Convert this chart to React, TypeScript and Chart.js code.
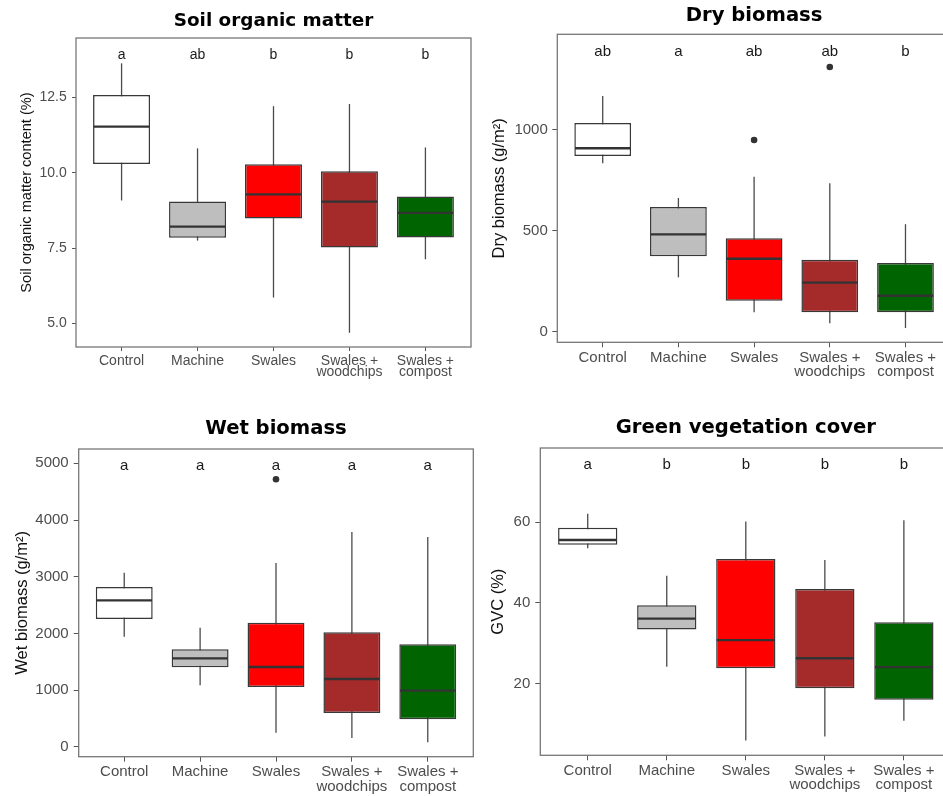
import React, { useEffect, useRef } from "react";
import { Chart, registerables } from "chart.js";

Chart.register(...registerables);

// ---------- shared categories ----------
const categories = ["Control", "Machine", "Swales", "Swales + woodchips", "Swales + compost"];
const categoryTickLabels: string[][] = [
  ["Control"],
  ["Machine"],
  ["Swales"],
  ["Swales +", "woodchips"],
  ["Swales +", "compost"],
];
const boxColors = ["#FFFFFF", "#BEBEBE", "#FF0000", "#A52A2A", "#006400"];

// ---------- Soil organic matter ----------
const somLow = [9.08, 7.75, 5.86, 4.69, 7.13];
const somQ1 = [10.29, 7.84, 8.48, 7.52, 7.85];
const somMedian = [11.53, 8.21, 9.28, 9.04, 8.67];
const somQ3 = [12.58, 9.05, 10.28, 10.05, 9.21];
const somHigh = [13.63, 10.81, 12.21, 12.28, 10.84];
const somOutlierCategory: number[] = [];
const somOutlierValue: number[] = [];
const somLetters = ["a", "ab", "b", "b", "b"];
const somLetterY = 13.78;
const somYRange = [4.22, 14.47];
const somTicks = [5, 7.5, 10, 12.5];
const somTickLabels = ["5.0", "7.5", "10.0", "12.5"];

// ---------- Dry biomass ----------
const dryLow = [834, 269, 96, 42, 18];
const dryQ1 = [870, 373, 153, 96, 96];
const dryMedian = [908, 482, 361, 243, 178];
const dryQ3 = [1033, 617, 462, 356, 340];
const dryHigh = [1167, 662, 767, 735, 532];
const dryOutlierCategory = [2, 3];
const dryOutlierValue = [949, 1310];
const dryLetters = ["ab", "a", "ab", "ab", "b"];
const dryLetterY = 1365;
const dryYRange = [-52.5, 1472];
const dryTicks = [0, 500, 1000];
const dryTickLabels = ["0", "500", "1000"];

// ---------- Wet biomass ----------
const wetLow = [1944, 1087, 252, 159, 83];
const wetQ1 = [2256, 1405, 1057, 599, 488];
const wetMedian = [2585, 1563, 1410, 1198, 992];
const wetQ3 = [2820, 1722, 2191, 2021, 1810];
const wetHigh = [3072, 2103, 3243, 3789, 3701];
const wetOutlierCategory = [2];
const wetOutlierValue = [4718];
const wetLetters = ["a", "a", "a", "a", "a"];
const wetLetterY = 4882;
const wetYRange = [-171, 5252];
const wetTicks = [0, 1000, 2000, 3000, 4000, 5000];
const wetTickLabels = ["0", "1000", "2000", "3000", "4000", "5000"];

// ---------- Green vegetation cover ----------
const gvcLow = [53.56, 24.2, 5.9, 6.9, 10.8];
const gvcQ1 = [54.45, 33.4, 23.8, 18.9, 16.0];
const gvcMedian = [55.6, 36.1, 30.8, 26.3, 24.1];
const gvcQ3 = [58.66, 39.43, 50.9, 43.47, 35.2];
const gvcHigh = [62.1, 46.77, 60.2, 50.66, 60.5];
const gvcOutlierCategory: number[] = [];
const gvcOutlierValue: number[] = [];
const gvcLetters = ["a", "b", "b", "b", "b"];
const gvcLetterY = 73.2;
const gvcYRange = [2.26, 78.4];
const gvcTicks = [20, 40, 60];
const gvcTickLabels = ["20", "40", "60"];

const xRange = [-0.6, 4.6];

type PanelData = {
  title: string;
  yTitle: string;
  low: number[];
  q1: number[];
  median: number[];
  q3: number[];
  high: number[];
  outlierCategory: number[];
  outlierValue: number[];
  letters: string[];
  letterY: number;
  yRange: number[];
  ticks: number[];
  tickLabels: string[];
};

type PanelLayout = {
  left: number;
  top: number;
  width: number;
  height: number;
  yAxisWidth: number;
  xAxisHeight: number;
  padRight: number;
  titleSize: number;
  titlePadTop: number;
  titlePadBottom: number;
  tickSize: number;
  tickLineHeight: number;
  xTickPad: number;
  tickLen: number;
  yTickPad: number;
  yTitleSize: number;
  yTitlePad: number;
  letterSize: number;
};

const panelData: PanelData[] = [
  {
    title: "Soil organic matter",
    yTitle: "Soil organic matter content (%)",
    low: somLow, q1: somQ1, median: somMedian, q3: somQ3, high: somHigh,
    outlierCategory: somOutlierCategory, outlierValue: somOutlierValue,
    letters: somLetters, letterY: somLetterY, yRange: somYRange,
    ticks: somTicks, tickLabels: somTickLabels,
  },
  {
    title: "Dry biomass",
    yTitle: "Dry biomass (g/m²)",
    low: dryLow, q1: dryQ1, median: dryMedian, q3: dryQ3, high: dryHigh,
    outlierCategory: dryOutlierCategory, outlierValue: dryOutlierValue,
    letters: dryLetters, letterY: dryLetterY, yRange: dryYRange,
    ticks: dryTicks, tickLabels: dryTickLabels,
  },
  {
    title: "Wet biomass",
    yTitle: "Wet biomass (g/m²)",
    low: wetLow, q1: wetQ1, median: wetMedian, q3: wetQ3, high: wetHigh,
    outlierCategory: wetOutlierCategory, outlierValue: wetOutlierValue,
    letters: wetLetters, letterY: wetLetterY, yRange: wetYRange,
    ticks: wetTicks, tickLabels: wetTickLabels,
  },
  {
    title: "Green vegetation cover",
    yTitle: "GVC (%)",
    low: gvcLow, q1: gvcQ1, median: gvcMedian, q3: gvcQ3, high: gvcHigh,
    outlierCategory: gvcOutlierCategory, outlierValue: gvcOutlierValue,
    letters: gvcLetters, letterY: gvcLetterY, yRange: gvcYRange,
    ticks: gvcTicks, tickLabels: gvcTickLabels,
  },
];

const panelLayouts: PanelLayout[] = [
  { left: 0, top: 0, width: 480, height: 400, yAxisWidth: 76, xAxisHeight: 53, padRight: 9,
    titleSize: 18.4, titlePadTop: 12.1, titlePadBottom: 7.5, tickSize: 14, tickLineHeight: 0.84,
    xTickPad: 4, tickLen: 4, yTickPad: 5.3, yTitleSize: 14.6, yTitlePad: 18.7, letterSize: 14 },
  { left: 480, top: 0, width: 480, height: 400, yAxisWidth: 77.3, xAxisHeight: 57.7, padRight: 9.1,
    titleSize: 19.6, titlePadTop: 5.8, titlePadBottom: 8.9, tickSize: 15, tickLineHeight: 0.97,
    xTickPad: 2.9, tickLen: 5, yTickPad: 4.5, yTitleSize: 16.5, yTitlePad: 9.6, letterSize: 15 },
  { left: 0, top: 400, width: 480, height: 396, yAxisWidth: 78.7, xAxisHeight: 39.3, padRight: 6.7,
    titleSize: 19.6, titlePadTop: 19.4, titlePadBottom: 10, tickSize: 15, tickLineHeight: 0.96,
    xTickPad: 3.2, tickLen: 5, yTickPad: 5, yTitleSize: 16.5, yTitlePad: 12.6, letterSize: 15 },
  { left: 480, top: 400, width: 480, height: 396, yAxisWidth: 60.3, xAxisHeight: 40.7, padRight: 8.7,
    titleSize: 19.6, titlePadTop: 18.4, titlePadBottom: 10, tickSize: 15, tickLineHeight: 0.93,
    xTickPad: 3.5, tickLen: 5, yTickPad: 5, yTitleSize: 16.5, yTitlePad: 8.8, letterSize: 15 },
];

const SANS = "'Liberation Sans', Arial, sans-serif";
const TITLE_FONT = "'DejaVu Sans', sans-serif";

function makeExtrasPlugin(d: PanelData, l: PanelLayout) {
  return {
    id: "boxExtras",
    beforeDatasetsDraw(chart: any) {
      const { ctx } = chart;
      const x = chart.scales.x;
      const y = chart.scales.y;
      ctx.save();
      ctx.strokeStyle = "#4A4A4A";
      ctx.lineWidth = 1.3;
      d.low.forEach((lo, i) => {
        const px = x.getPixelForValue(i);
        ctx.beginPath();
        ctx.moveTo(px, y.getPixelForValue(lo));
        ctx.lineTo(px, y.getPixelForValue(d.high[i]));
        ctx.stroke();
      });
      ctx.restore();
    },
    afterDatasetsDraw(chart: any) {
      const { ctx, chartArea } = chart;
      const x = chart.scales.x;
      const y = chart.scales.y;
      const meta = chart.getDatasetMeta(0);
      ctx.save();
      // medians
      ctx.strokeStyle = "#333333";
      ctx.lineWidth = 2.3;
      d.median.forEach((m, i) => {
        const bar = meta.data[i];
        if (!bar) return;
        const { x: bx, width } = bar.getProps(["x", "width"], true);
        const py = y.getPixelForValue(m);
        ctx.beginPath();
        ctx.moveTo(bx - width / 2 + 0.7, py);
        ctx.lineTo(bx + width / 2 - 0.7, py);
        ctx.stroke();
      });
      // significance letters
      ctx.fillStyle = "#1A1A1A";
      ctx.font = `${l.letterSize}px ${SANS}`;
      ctx.textAlign = "center";
      ctx.textBaseline = "alphabetic";
      d.letters.forEach((t, i) => {
        ctx.fillText(t, x.getPixelForValue(i), y.getPixelForValue(d.letterY));
      });
      // panel border
      ctx.strokeStyle = "#777777";
      ctx.lineWidth = 1.3;
      ctx.strokeRect(chartArea.left, chartArea.top, chartArea.right - chartArea.left, chartArea.bottom - chartArea.top);
      ctx.restore();
    },
  };
}

function buildConfig(d: PanelData, l: PanelLayout): any {
  const boxData = d.q1.map((q, i) => ({ x: i, y: [q, d.q3[i]] }));
  const outlierData = d.outlierCategory.map((c, i) => ({ x: c, y: d.outlierValue[i] }));
  return {
    type: "bar",
    data: {
      datasets: [
        {
          type: "bar",
          data: boxData,
          backgroundColor: boxColors,
          borderColor: "#383838",
          borderWidth: 1.5,
          borderSkipped: false,
          barPercentage: 0.75,
          categoryPercentage: 1,
          order: 2,
        },
        {
          type: "scatter",
          data: outlierData,
          pointRadius: 3.3,
          pointBackgroundColor: "#333333",
          pointBorderWidth: 0,
          order: 1,
        },
      ],
    },
    options: {
      animation: false,
      responsive: false,
      devicePixelRatio: 1,
      events: [],
      layout: { padding: { left: 0, right: l.padRight, top: 0, bottom: 0 } },
      plugins: {
        legend: { display: false },
        tooltip: { enabled: false },
        title: {
          display: true,
          text: d.title,
          fullSize: false,
          color: "#000000",
          font: { family: TITLE_FONT, weight: "bold", size: l.titleSize, lineHeight: 1 },
          padding: { top: l.titlePadTop, bottom: l.titlePadBottom },
        },
      },
      scales: {
        x: {
          type: "linear",
          min: xRange[0],
          max: xRange[1],
          offset: false,
          grid: {
            display: true,
            offset: false,
            drawOnChartArea: false,
            drawTicks: true,
            tickLength: l.tickLen,
            color: "#555555",
            lineWidth: 1,
          },
          border: { display: false },
          afterBuildTicks: (scale: any) => {
            scale.ticks = categories.map((_, i) => ({ value: i }));
          },
          afterFit: (scale: any) => {
            scale.height = l.xAxisHeight;
            scale.paddingLeft = 0;
            scale.paddingRight = 0;
          },
          ticks: {
            autoSkip: false,
            maxRotation: 0,
            minRotation: 0,
            padding: l.xTickPad,
            color: "#4D4D4D",
            font: { family: SANS, size: l.tickSize, lineHeight: l.tickLineHeight },
            callback: (_v: any, i: number) => categoryTickLabels[i],
          },
        },
        y: {
          type: "linear",
          min: d.yRange[0],
          max: d.yRange[1],
          grid: {
            display: true,
            drawOnChartArea: false,
            drawTicks: true,
            tickLength: l.tickLen,
            color: "#555555",
            lineWidth: 1,
          },
          border: { display: false },
          afterBuildTicks: (scale: any) => {
            scale.ticks = d.ticks.map((v) => ({ value: v }));
          },
          afterFit: (scale: any) => {
            scale.width = l.yAxisWidth;
            scale.paddingTop = 0;
            scale.paddingBottom = 0;
          },
          ticks: {
            autoSkip: false,
            padding: l.yTickPad,
            color: "#4D4D4D",
            font: { family: SANS, size: l.tickSize },
            callback: (_v: any, i: number) => d.tickLabels[i],
          },
          title: {
            display: true,
            text: d.yTitle,
            color: "#111111",
            font: { family: SANS, size: l.yTitleSize, lineHeight: 1.2 },
            padding: { top: l.yTitlePad, bottom: 0 },
          },
        },
      },
    },
    plugins: [makeExtrasPlugin(d, l)],
  };
}

function Panel({ d, l }: { d: PanelData; l: PanelLayout }) {
  const ref = useRef<HTMLCanvasElement | null>(null);
  useEffect(() => {
    if (!ref.current) return;
    const chart = new Chart(ref.current, buildConfig(d, l));
    return () => chart.destroy();
  }, []);
  return (
    <canvas
      ref={ref}
      width={l.width}
      height={l.height}
      style={{ position: "absolute", left: l.left, top: l.top, width: l.width, height: l.height, display: "block" }}
    />
  );
}

export default function App() {
  return (
    <div
      style={{
        position: "fixed",
        left: 0,
        top: 0,
        width: 943,
        height: 796,
        overflow: "hidden",
        background: "#FFFFFF",
      }}
    >
      {panelData.map((d, i) => (
        <Panel key={i} d={d} l={panelLayouts[i]} />
      ))}
    </div>
  );
}
